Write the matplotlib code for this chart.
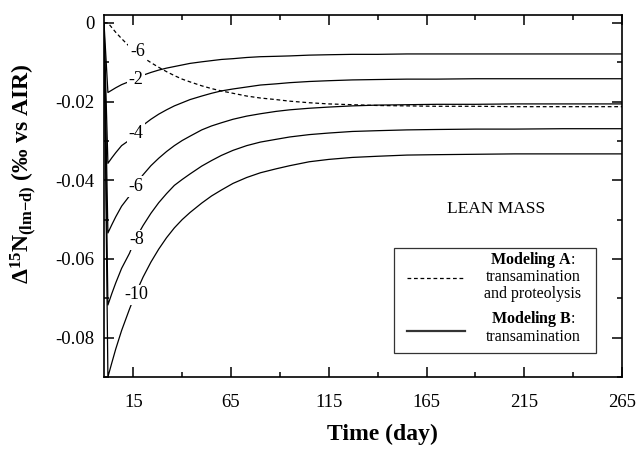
import numpy as np
import matplotlib
matplotlib.use("Agg")
import matplotlib.pyplot as plt
from matplotlib.patches import Rectangle
from matplotlib.lines import Line2D

plt.rcParams['font.family'] = 'Liberation Serif'
plt.rcParams['mathtext.fontset'] = 'custom'
plt.rcParams['mathtext.rm'] = 'Liberation Serif'
plt.rcParams['mathtext.bf'] = 'Liberation Serif:bold'
plt.rcParams['mathtext.it'] = 'Liberation Serif:italic'
plt.rcParams['axes.unicode_minus'] = False

# time (day)
days = [0, 2, 4, 6, 9, 13, 16, 20, 24, 28, 32, 36, 40, 44, 50, 55, 60, 66, 73, 80,
        88, 95, 105, 115, 127, 140, 155, 170, 190, 210, 235, 265]

# Modeling B (transamination), one curve per label
model_b = {
    '-2':  [0, -0.0177, -0.0171, -0.0165, -0.0157, -0.0149, -0.0140, -0.0133, -0.0126,
            -0.0120, -0.0115, -0.0111, -0.0107, -0.0103, -0.0099, -0.0096, -0.0093,
            -0.0091, -0.0088, -0.0086, -0.0085, -0.0084, -0.0082, -0.0081, -0.0080,
            -0.0080, -0.0079, -0.0079, -0.0079, -0.0079, -0.0079, -0.0079],
    '-4':  [0, -0.0357, -0.0343, -0.0330, -0.0312, -0.0298, -0.0277, -0.0260, -0.0245,
            -0.0232, -0.0221, -0.0211, -0.0203, -0.0195, -0.0186, -0.0179, -0.0173,
            -0.0168, -0.0163, -0.0158, -0.0155, -0.0152, -0.0149, -0.0147, -0.0145,
            -0.0144, -0.0143, -0.0143, -0.0142, -0.0142, -0.0142, -0.0142],
    '-6':  [0, -0.0534, -0.0513, -0.0493, -0.0466, -0.0440, -0.0412, -0.0386, -0.0363,
            -0.0344, -0.0327, -0.0312, -0.0299, -0.0288, -0.0272, -0.0262, -0.0254,
            -0.0245, -0.0237, -0.0231, -0.0225, -0.0221, -0.0217, -0.0214, -0.0211,
            -0.0209, -0.0208, -0.0207, -0.0207, -0.0206, -0.0206, -0.0206],
    '-8':  [0, -0.0717, -0.0688, -0.0661, -0.0624, -0.0586, -0.0550, -0.0515, -0.0484,
            -0.0457, -0.0434, -0.0413, -0.0398, -0.0384, -0.0364, -0.0350, -0.0337,
            -0.0324, -0.0312, -0.0303, -0.0296, -0.0290, -0.0284, -0.0280, -0.0276,
            -0.0274, -0.0272, -0.0271, -0.0270, -0.0270, -0.0269, -0.0269],
    '-10': [0, -0.0900, -0.0864, -0.0829, -0.0782, -0.0728, -0.0690, -0.0646, -0.0608,
            -0.0575, -0.0546, -0.0521, -0.0500, -0.0482, -0.0458, -0.0440, -0.0425,
            -0.0408, -0.0393, -0.0381, -0.0371, -0.0363, -0.0353, -0.0347, -0.0342,
            -0.0339, -0.0336, -0.0335, -0.0334, -0.0333, -0.0333, -0.0333],
}
# Modeling A (transamination and proteolysis)
model_a = [0, 0, -0.0012, -0.0024, -0.0040, -0.0060, -0.0073, -0.0088, -0.0101,
           -0.0113, -0.0124, -0.0134, -0.0143, -0.0150, -0.0160, -0.0167, -0.0173,
           -0.0179, -0.0186, -0.0191, -0.0195, -0.0199, -0.0203, -0.0206, -0.0208,
           -0.0210, -0.0211, -0.0212, -0.0212, -0.0213, -0.0213, -0.0213]
model_a_label = '-6'

# where the inline labels sit on each curve
label_day = 16.5
label_pos_b = {'-2': -0.0145, '-4': -0.0280, '-6': -0.0416, '-8': -0.0551, '-10': -0.0691}
label_pos_a = -0.0074

xticks = [15, 65, 115, 165, 215, 265]
yticks = [0, -0.02, -0.04, -0.06, -0.08]

fig = plt.figure(figsize=(6.4, 4.49), dpi=100)
ax = fig.add_axes([0.1625, 0.1604, 0.8094, 0.8062])

for name, vals in model_b.items():
    ax.plot(days, vals, color='black', lw=0.9, zorder=2)
    ax.text(label_day, label_pos_b[name], name, fontsize=13, ha='center', va='center',
            bbox=dict(facecolor='white', edgecolor='none', pad=1.2), zorder=3)

ax.plot(days, model_a, color='black', lw=0.9, ls=(0, (3, 2.2)), zorder=2)
ax.text(label_day + 0.6, label_pos_a, model_a_label, fontsize=13, ha='center', va='center',
        bbox=dict(facecolor='white', edgecolor='none', pad=1.2), zorder=3)

ax.set_xlim(0, 265)
ax.set_ylim(-0.09, 0.002)
ax.set_xticks(xticks)
ax.set_xticks(np.arange(40, 265, 50), minor=True)
ax.set_yticks(yticks)
ax.set_yticklabels(['0', '-0.02', '-0.04', '-0.06', '-0.08'])
ax.set_yticks(np.arange(-0.01, -0.091, -0.02), minor=True)
ax.tick_params(which='both', direction='in', top=True, right=True, width=1.1, labelsize=13.5)
ax.tick_params(which='major', length=7.2)
ax.tick_params(which='minor', length=3.6)
ax.tick_params(axis='x', pad=12)
ax.tick_params(axis='y', pad=7)
for sp in ax.spines.values():
    sp.set_linewidth(1.2)

ax.set_xlabel('Time (day)', fontsize=17, fontweight='bold')
ax.xaxis.set_label_coords(0.537, -0.158)
ax.xaxis.label.set_verticalalignment('center')
ax.set_ylabel('Δ$^{\\mathbf{15}}$N$_{\\mathbf{(lm{-}d)}}$ (‰ vs AIR)', fontsize=17, fontweight='bold')
ax.yaxis.set_label_coords(-0.154, 0.561)
ax.yaxis.label.set_verticalalignment('center')

ax.text(0.757, 0.464, 'LEAN MASS', transform=ax.transAxes, fontsize=12.5, ha='center', va='center')

# hand-built legend box
ax.add_patch(Rectangle((0.560, 0.067), 0.390, 0.290, transform=ax.transAxes,
                       facecolor='white', edgecolor='#333333', lw=0.9, zorder=4))
ax.add_line(Line2D([0.585, 0.697], [0.2735, 0.2735], transform=ax.transAxes,
                   color='black', lw=0.9, ls=(0, (3, 2.2)), zorder=5))
ax.add_line(Line2D([0.585, 0.697], [0.127, 0.127], transform=ax.transAxes,
                   color='#333333', lw=1.6, zorder=5))
legend_lines = [
    (0.324, '$\\mathbf{Modeling\\ A}$:'),
    (0.276, 'transamination'),
    (0.230, 'and proteolysis'),
    (0.160, '$\\mathbf{Modeling\\ B}$:'),
    (0.110, 'transamination'),
]
for y, s in legend_lines:
    ax.text(0.828, y, s, transform=ax.transAxes, fontsize=11.5, ha='center', va='center',
            zorder=6)

fig.savefig('out.png', dpi=100)
